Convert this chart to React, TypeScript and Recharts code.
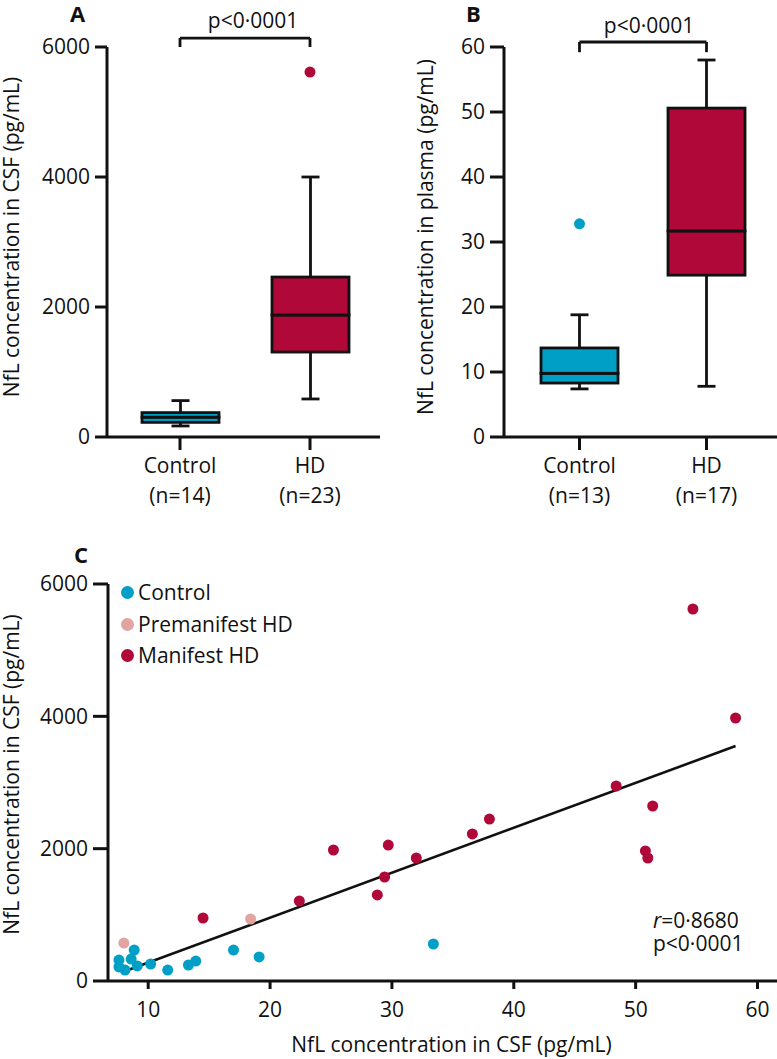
import React from 'react';
import {
  ComposedChart,
  Bar,
  Line,
  XAxis,
  YAxis,
  ReferenceLine,
  ScatterChart,
  Scatter,
  Legend,
} from 'recharts';

// ---------- data ----------
const boxCategories = ['Control', 'HD'];

const csfCounts = [14, 23];
const csfMin = [170, 585];
const csfQ1 = [225, 1307];
const csfMedian = [305, 1877];
const csfQ3 = [375, 2461];
const csfMax = [560, 4000];
const csfOutliers: (number | null)[] = [null, 5615];
const csfTicks = [0, 2000, 4000, 6000];

const plasmaCounts = [13, 17];
const plasmaMin = [7.4, 7.8];
const plasmaQ1 = [8.3, 24.9];
const plasmaMedian = [9.8, 31.7];
const plasmaQ3 = [13.7, 50.6];
const plasmaMax = [18.8, 58];
const plasmaOutliers: (number | null)[] = [32.8, null];
const plasmaTicks = [0, 10, 20, 30, 40, 50, 60];

const controlPoints = [
  { x: 7.6, y: 317 }, { x: 8.6, y: 332 }, { x: 7.6, y: 212 }, { x: 8.1, y: 166 },
  { x: 8.85, y: 468 }, { x: 9.1, y: 227 }, { x: 10.2, y: 257 }, { x: 11.6, y: 166 },
  { x: 13.3, y: 242 }, { x: 13.9, y: 302 }, { x: 17.0, y: 468 }, { x: 19.1, y: 363 },
  { x: 33.4, y: 559 },
];
const premanifestPoints = [{ x: 8.0, y: 574 }, { x: 18.4, y: 937 }];
const manifestPoints = [
  { x: 14.5, y: 952 }, { x: 22.4, y: 1209 }, { x: 28.8, y: 1300 }, { x: 29.4, y: 1572 },
  { x: 25.2, y: 1980 }, { x: 29.7, y: 2055 }, { x: 32.0, y: 1859 }, { x: 36.6, y: 2222 },
  { x: 38.0, y: 2448 }, { x: 48.4, y: 2947 }, { x: 51.4, y: 2645 }, { x: 50.8, y: 1965 },
  { x: 51.0, y: 1859 }, { x: 54.7, y: 5622 }, { x: 58.2, y: 3975 },
];
const fitLine = [{ x: 7.9, y: 135 }, { x: 58.2, y: 3551 }];
const scatterXTicks = [10, 20, 30, 40, 50, 60];
const scatterYTicks = [0, 2000, 4000, 6000];
const scatterXDomain = [6.7, 61.6];
const seriesNames = ['Control', 'Premanifest HD', 'Manifest HD'];

const csfBracket = { top: 6138, bottom: 6000 };
const plasmaBracket = { top: 60.77, bottom: 59.2 };

// ---------- styles ----------
const BLUE = '#00a0c6';
const RED = '#b00839';
const PINK = '#e2a4a1';
const INK = '#111';
const FONT = '"Open Sans", sans-serif';
const FS = 21;
const SW = 2.8;
const catColor: Record<string, string> = { Control: BLUE, HD: RED };
const seriesColors = [BLUE, PINK, RED];

const axisStyle = { stroke: INK, strokeWidth: 3 };

function buildRows(
  cats: string[], mins: number[], q1s: number[], meds: number[],
  q3s: number[], maxs: number[], outs: (number | null)[]
) {
  return cats.map((name, i) => ({
    name,
    base: mins[i],
    lowWhisker: q1s[i] - mins[i],
    lowBox: meds[i] - q1s[i],
    highBox: q3s[i] - meds[i],
    highWhisker: maxs[i] - q3s[i],
    outlier: outs[i],
  }));
}

const csfRows = buildRows(boxCategories, csfMin, csfQ1, csfMedian, csfQ3, csfMax, csfOutliers);
const plasmaRows = buildRows(boxCategories, plasmaMin, plasmaQ1, plasmaMedian, plasmaQ3, plasmaMax, plasmaOutliers);

const nameOf = (p: any) => (p.payload && p.payload.name) || p.name;

const WhiskerLow = (p: any) => {
  const cx = p.x + p.width / 2;
  const yb = p.y + p.height;
  return (
    <g>
      <line x1={cx} x2={cx} y1={p.y} y2={yb} stroke={INK} strokeWidth={SW} />
      <line x1={cx - 9} x2={cx + 9} y1={yb} y2={yb} stroke={INK} strokeWidth={SW} />
    </g>
  );
};
const WhiskerHigh = (p: any) => {
  const cx = p.x + p.width / 2;
  return (
    <g>
      <line x1={cx} x2={cx} y1={p.y} y2={p.y + p.height} stroke={INK} strokeWidth={SW} />
      <line x1={cx - 9} x2={cx + 9} y1={p.y} y2={p.y} stroke={INK} strokeWidth={SW} />
    </g>
  );
};
const BoxPart = (p: any) => (
  <rect x={p.x} y={p.y} width={p.width} height={p.height}
    fill={catColor[nameOf(p)]} stroke={INK} strokeWidth={SW} />
);
const Empty = () => <g />;

const OutlierDot = (p: any) => {
  if (p.value == null || p.cy == null || isNaN(p.cy)) return <g key={`o${p.index}`} />;
  return <circle key={`o${p.index}`} cx={p.cx} cy={p.cy} r={5.5} fill={catColor[nameOf(p)]} />;
};

const makeCatTick = (counts: number[]) => (p: any) => {
  const { x, y, payload } = p;
  return (
    <text x={x} y={y} textAnchor="middle" fill={INK} fontSize={FS}>
      <tspan x={x} dy={21}>{payload.value}</tspan>
      <tspan x={x} dy={30}>{`(n=${counts[payload.index]})`}</tspan>
    </text>
  );
};

const ScatterDot = (color: string) => (p: any) => (
  <circle cx={p.cx} cy={p.cy} r={5.5} fill={color} />
);

function BoxPanel(props: {
  rows: any[]; counts: number[]; domain: number[]; ticks: number[];
  yWidth: number; tickSize: number; label: string; labelOffset: number;
  padding: { left: number; right: number }; marginRight: number;
  width: number; bracket: { top: number; bottom: number }; pOffset: number; pDx: number;
}) {
  const { rows, counts, domain, ticks, yWidth, tickSize, label, labelOffset, padding, marginRight, width, bracket, pOffset, pDx } = props;
  return (
    <ComposedChart width={width} height={520} data={rows}
      margin={{ top: 47, right: marginRight, bottom: 23, left: 0 }}>
      <XAxis dataKey="name" type="category" height={60} padding={padding}
        tickSize={13} tickMargin={2} axisLine={axisStyle} tickLine={axisStyle}
        tick={makeCatTick(counts)} interval={0} />
      <YAxis type="number" domain={domain} ticks={ticks} width={yWidth}
        tickSize={tickSize} tickMargin={5} axisLine={axisStyle} tickLine={axisStyle}
        tick={{ fontSize: FS, fill: INK }} allowDataOverflow interval={0}
        label={{ value: label, angle: -90, position: 'insideLeft', offset: labelOffset, dy: -5,
          style: { textAnchor: 'middle', fontSize: FS, fill: INK } }} />
      <Bar dataKey="base" stackId="b" barSize={77} shape={Empty} isAnimationActive={false} />
      <Bar dataKey="lowWhisker" stackId="b" barSize={77} shape={WhiskerLow} isAnimationActive={false} />
      <Bar dataKey="lowBox" stackId="b" barSize={77} shape={BoxPart} isAnimationActive={false} />
      <Bar dataKey="highBox" stackId="b" barSize={77} shape={BoxPart} isAnimationActive={false} />
      <Bar dataKey="highWhisker" stackId="b" barSize={77} shape={WhiskerHigh} isAnimationActive={false} />
      <Line dataKey="outlier" stroke="none" dot={OutlierDot} activeDot={false}
        isAnimationActive={false} legendType="none" />
      <ReferenceLine ifOverflow="visible" stroke={INK} strokeWidth={SW}
        segment={[{ x: boxCategories[0], y: bracket.top }, { x: boxCategories[1], y: bracket.top }]}
        label={{ value: 'p<0·0001', position: 'top', offset: pOffset, dx: pDx, fill: INK, fontSize: FS }} />
      <ReferenceLine ifOverflow="visible" stroke={INK} strokeWidth={SW}
        segment={[{ x: boxCategories[0], y: bracket.top }, { x: boxCategories[0], y: bracket.bottom }]} />
      <ReferenceLine ifOverflow="visible" stroke={INK} strokeWidth={SW}
        segment={[{ x: boxCategories[1], y: bracket.top }, { x: boxCategories[1], y: bracket.bottom }]} />
    </ComposedChart>
  );
}

const LegendContent = () => (
  <div style={{ fontFamily: FONT, fontSize: FS, color: INK }}>
    {seriesNames.map((name, i) => (
      <div key={name} style={{ display: 'flex', alignItems: 'center', height: 31.5 }}>
        <span style={{ width: 13, height: 13, borderRadius: '50%', background: seriesColors[i], display: 'inline-block', marginRight: 4 }} />
        <span style={{ lineHeight: '31.5px', whiteSpace: 'nowrap' }}>{name}</span>
      </div>
    ))}
  </div>
);

export default function App() {
  return (
    <div style={{ position: 'absolute', left: 0, top: 0, width: 777, height: 1059, background: '#fff', fontFamily: FONT, color: INK }}>
      <div style={{ position: 'absolute', left: 0, top: 0 }}>
        <BoxPanel rows={csfRows} counts={csfCounts} domain={[0, 6000]} ticks={csfTicks}
          yWidth={107} tickSize={12} label="NfL concentration in CSF (pg/mL)" labelOffset={12}
          padding={{ left: 8, right: 5 }} marginRight={10} width={390}
          bracket={csfBracket} pOffset={10} pDx={8} />
      </div>
      <div style={{ position: 'absolute', left: 390, top: 0 }}>
        <BoxPanel rows={plasmaRows} counts={plasmaCounts} domain={[0, 60]} ticks={plasmaTicks}
          yWidth={114} tickSize={14} label="NfL concentration in plasma (pg/mL)" labelOffset={36}
          padding={{ left: 12, right: 7 }} marginRight={0} width={387}
          bracket={plasmaBracket} pOffset={9} pDx={6} />
      </div>
      <div style={{ position: 'absolute', left: 0, top: 540 }}>
        <ScatterChart width={777} height={519} margin={{ top: 44, right: 0, bottom: 28, left: 0 }}>
          <XAxis type="number" dataKey="x" domain={scatterXDomain} ticks={scatterXTicks}
            allowDataOverflow height={50} tickSize={8} tickMargin={13}
            axisLine={axisStyle} tickLine={axisStyle} tick={{ fontSize: FS, fill: INK }} interval={0}
            label={{ value: 'NfL concentration in CSF (pg/mL)', position: 'bottom', offset: 6, dx: 9,
              style: { fontSize: FS, fill: INK } }} />
          <YAxis type="number" dataKey="y" domain={[0, 6000]} ticks={scatterYTicks}
            allowDataOverflow width={108} tickSize={15} tickMargin={5}
            axisLine={axisStyle} tickLine={axisStyle} tick={{ fontSize: FS, fill: INK }} interval={0}
            label={{ value: 'NfL concentration in CSF (pg/mL)', angle: -90, position: 'insideLeft', offset: 12, dy: -8,
              style: { textAnchor: 'middle', fontSize: FS, fill: INK } }} />
          <ReferenceLine ifOverflow="visible" stroke={INK} strokeWidth={2.6}
            segment={[fitLine[0], fitLine[1]]} />
          <Scatter name={seriesNames[0]} data={controlPoints} fill={BLUE} shape={ScatterDot(BLUE)} isAnimationActive={false} />
          <Scatter name={seriesNames[1]} data={premanifestPoints} fill={PINK} shape={ScatterDot(PINK)} isAnimationActive={false} />
          <Scatter name={seriesNames[2]} data={manifestPoints} fill={RED} shape={ScatterDot(RED)} isAnimationActive={false} />
          <Legend layout="vertical" align="center" verticalAlign="middle"
            wrapperStyle={{ left: 121, top: 37, width: 'auto', height: 'auto' }}
            content={LegendContent} />
        </ScatterChart>
      </div>
      <svg width={777} height={1059} style={{ position: 'absolute', left: 0, top: 0, pointerEvents: 'none' }}>
        <text x={70} y={22} fontSize={22} fontWeight="bold" fill={INK}>A</text>
        <text x={466} y={22} fontSize={22} fontWeight="bold" fill={INK}>B</text>
        <text x={74} y={563} fontSize={22} fontWeight="bold" fill={INK}>C</text>
        <text x={653} y={928} fontSize={FS} fill={INK}>
          <tspan fontStyle="italic">r</tspan>=0·8680
        </text>
        <text x={653} y={951} fontSize={FS} fill={INK}>p&lt;0·0001</text>
      </svg>
    </div>
  );
}
